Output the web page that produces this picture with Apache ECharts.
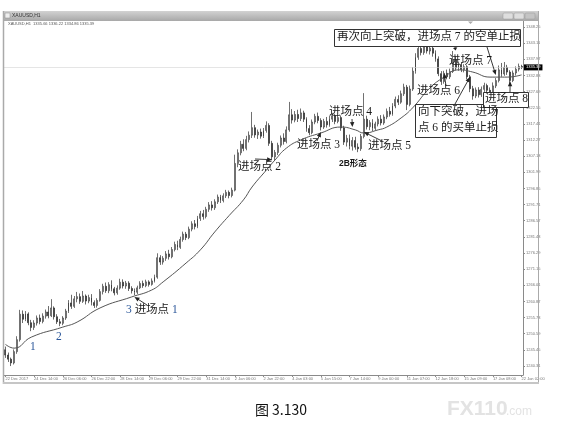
<!DOCTYPE html>
<html><head><meta charset="utf-8">
<script src="https://cdn.jsdelivr.net/npm/echarts@6/dist/echarts.min.js"></script>
<style>html,body{margin:0;padding:0;background:#fff}#c{width:562px;height:432px}</style>
</head><body><div id="c"></div>
<script>
// ---------------- data ----------------
const xTickLabels = ["22 Dec 2017","24 Dec 14:00","26 Dec 06:00","26 Dec 22:00","28 Dec 14:00","29 Dec 06:00","29 Dec 22:00","31 Dec 14:00","2 Jan 06:00","2 Jan 22:00","4 Jan 03:00","5 Jan 15:00","7 Jan 14:00","9 Jan 00:00","11 Jan 07:00","12 Jan 18:00","15 Jan 09:00","17 Jan 08:00","22 Jan 02:00"];
const yTickValues = [1240.31,1245.45,1250.59,1255.73,1260.87,1266.01,1271.15,1276.29,1281.43,1286.57,1291.71,1296.85,1301.99,1307.13,1312.27,1317.41,1322.55,1327.69,1332.83,1337.97,1343.11,1348.25];
const barOpen = [1245.5,1243.8,1242.5,1241.3,1244.9,1248.7,1256.8,1255.2,1256.9,1254.1,
1252.6,1254.0,1255.6,1254.5,1256.2,1257.5,1256.3,1258.8,1256.0,1254.4,
1253.9,1255.6,1257.8,1260.4,1259.3,1261.7,1262.4,1260.9,1262.6,1261.0,
1262.1,1260.5,1259.6,1261.2,1264.0,1265.7,1264.3,1266.2,1264.9,1263.6,
1265.1,1267.0,1265.8,1266.7,1265.0,1264.3,1263.8,1265.2,1266.6,1265.9,
1267.1,1266.3,1267.4,1268.6,1274.8,1273.4,1274.6,1276.0,1275.1,1277.4,
1279.0,1278.1,1280.6,1282.3,1281.2,1283.9,1285.6,1284.7,1287.3,1288.8,
1287.9,1290.2,1291.6,1290.7,1292.6,1294.1,1293.0,1294.5,1295.6,1294.6,
1296.3,1304.8,1308.2,1310.9,1309.6,1312.4,1313.8,1316.2,1313.9,1314.8,
1313.5,1315.3,1316.9,1311.2,1306.9,1308.3,1310.6,1312.9,1311.8,1315.5,
1320.3,1318.6,1320.4,1319.1,1320.9,1318.9,1315.9,1314.6,1318.0,1319.8,
1318.5,1316.4,1318.2,1317.1,1318.9,1320.0,1318.2,1319.4,1316.1,1311.6,
1312.8,1310.3,1312.1,1310.0,1309.5,1313.4,1318.9,1316.5,1317.8,1316.0,
1317.4,1318.9,1317.7,1319.6,1321.4,1320.5,1323.1,1325.2,1324.3,1327.0,
1329.1,1323.6,1328.5,1334.2,1338.6,1341.4,1340.1,1342.0,1340.6,1341.5,
1339.9,1338.1,1333.4,1330.9,1333.5,1332.4,1334.1,1337.8,1335.2,1336.3,
1334.7,1335.6,1332.4,1328.6,1326.3,1328.2,1326.7,1328.4,1329.6,1328.1,
1327.3,1329.5,1331.2,1334.6,1333.3,1335.4,1333.9,1331.2,1333.6,1334.8,
1335.66];
const barClose = [1243.8,1242.5,1241.3,1244.9,1248.7,1256.8,1255.2,1256.9,1254.1,1252.6,
1254.0,1255.6,1254.5,1256.2,1257.5,1256.3,1258.8,1256.0,1254.4,1253.9,
1255.6,1257.8,1260.4,1259.3,1261.7,1262.4,1260.9,1262.6,1261.0,1262.1,
1260.5,1259.6,1261.2,1264.0,1265.7,1264.3,1266.2,1264.9,1263.6,1265.1,
1267.0,1265.8,1266.7,1265.0,1264.3,1263.8,1265.2,1266.6,1265.9,1267.1,
1266.3,1267.4,1268.6,1274.8,1273.4,1274.6,1276.0,1275.1,1277.4,1279.0,
1278.1,1280.6,1282.3,1281.2,1283.9,1285.6,1284.7,1287.3,1288.8,1287.9,
1290.2,1291.6,1290.7,1292.6,1294.1,1293.0,1294.5,1295.6,1294.6,1296.3,
1304.8,1308.2,1310.9,1309.6,1312.4,1313.8,1316.2,1313.9,1314.8,1313.5,
1315.3,1316.9,1311.2,1306.9,1308.3,1310.6,1312.9,1311.8,1315.5,1320.3,
1318.6,1320.4,1319.1,1320.9,1318.9,1315.9,1314.6,1318.0,1319.8,1318.5,
1316.4,1318.2,1317.1,1318.9,1320.0,1318.2,1319.4,1316.1,1311.6,1312.8,
1310.3,1312.1,1310.0,1309.5,1313.4,1318.9,1316.5,1317.8,1316.0,1317.4,
1318.9,1317.7,1319.6,1321.4,1320.5,1323.1,1325.2,1324.3,1327.0,1329.1,
1323.6,1328.5,1334.2,1338.6,1341.4,1340.1,1342.0,1340.6,1341.5,1339.9,
1338.1,1333.4,1330.9,1333.5,1332.4,1334.1,1337.8,1335.2,1336.3,1334.7,
1335.6,1332.4,1328.6,1326.3,1328.2,1326.7,1328.4,1329.6,1328.1,1327.3,
1329.5,1331.2,1334.6,1333.3,1335.4,1333.9,1331.2,1333.6,1334.8,1335.7,
1335.39];
const barLow = [1242.9,1241.6,1240.3,1240.8,1244.2,1248.1,1254.0,1254.6,1253.3,1251.4,
1251.8,1253.2,1253.6,1253.9,1255.4,1255.5,1255.9,1255.1,1253.7,1253.0,
1253.3,1255.0,1257.2,1258.5,1258.8,1260.6,1260.1,1260.4,1259.9,1260.3,
1259.6,1258.8,1258.9,1260.8,1263.1,1263.6,1263.5,1264.1,1262.8,1263.0,
1264.6,1265.0,1264.9,1264.2,1263.4,1262.9,1263.2,1264.8,1265.2,1265.4,
1265.6,1265.9,1266.9,1268.1,1272.5,1272.6,1273.8,1274.2,1274.6,1276.8,
1277.2,1277.6,1279.9,1280.4,1280.7,1283.2,1283.8,1284.2,1286.5,1286.9,
1287.3,1289.4,1289.8,1290.0,1291.9,1292.2,1292.4,1293.8,1293.7,1294.0,
1295.9,1303.6,1307.4,1308.7,1309.0,1311.5,1312.9,1313.0,1312.6,1312.7,
1312.9,1314.6,1310.4,1305.8,1305.6,1307.5,1309.9,1310.8,1311.2,1314.9,
1317.5,1317.9,1318.0,1318.3,1318.0,1314.9,1313.8,1314.1,1317.3,1317.6,
1315.3,1315.8,1316.2,1316.5,1318.0,1317.3,1317.6,1315.2,1310.7,1310.2,
1309.3,1308.9,1309.2,1308.4,1308.8,1312.8,1315.6,1315.4,1315.1,1315.3,
1316.6,1316.9,1317.1,1318.9,1319.7,1320.0,1322.4,1323.4,1323.8,1326.3,
1321.8,1323.0,1327.9,1333.4,1337.8,1339.2,1339.4,1339.8,1339.5,1338.8,
1337.2,1332.6,1329.8,1330.2,1331.6,1331.7,1333.6,1334.4,1334.3,1333.9,
1333.8,1331.6,1327.5,1325.1,1325.6,1325.8,1326.0,1327.6,1327.3,1326.2,
1326.8,1328.8,1330.6,1332.4,1332.7,1333.0,1329.6,1330.7,1332.8,1334.1,
1334.86];
const barHigh = [1246.5,1244.6,1243.0,1245.6,1249.8,1258.2,1258.0,1257.8,1257.4,1255.0,
1254.9,1256.4,1256.7,1257.1,1258.3,1259.4,1261.6,1259.3,1256.8,1255.3,
1256.2,1258.5,1261.3,1263.0,1262.6,1263.9,1263.4,1264.2,1263.1,1263.0,
1263.2,1261.2,1261.9,1264.8,1266.5,1266.9,1267.0,1267.6,1265.5,1266.0,
1268.1,1267.9,1267.4,1267.3,1265.7,1265.0,1265.9,1267.3,1267.5,1267.8,
1267.6,1268.2,1269.4,1276.2,1275.6,1275.3,1276.9,1277.3,1278.2,1279.9,
1280.2,1281.5,1283.1,1283.0,1284.7,1286.4,1286.8,1288.1,1289.7,1290.0,
1291.0,1292.5,1292.8,1293.4,1294.9,1294.8,1295.3,1296.4,1296.2,1297.1,
1307.6,1309.3,1312.0,1312.5,1313.6,1315.0,1321.2,1317.1,1315.6,1315.9,
1316.1,1318.2,1317.6,1312.0,1309.1,1311.4,1313.7,1314.4,1316.6,1324.4,
1322.1,1321.5,1321.9,1322.3,1321.6,1319.5,1317.0,1318.8,1320.6,1321.0,
1319.2,1319.0,1319.6,1319.9,1320.9,1320.5,1320.6,1320.1,1316.8,1313.9,
1314.0,1313.2,1313.3,1311.2,1314.2,1327.2,1320.0,1318.6,1318.9,1318.1,
1319.8,1320.2,1320.4,1322.3,1322.8,1324.0,1326.1,1326.5,1328.0,1330.2,
1329.8,1329.6,1335.5,1339.9,1342.9,1343.6,1343.1,1342.8,1342.4,1342.2,
1340.8,1338.9,1334.2,1334.3,1334.7,1335.0,1340.6,1338.9,1337.2,1337.0,
1336.4,1336.1,1333.0,1329.5,1329.0,1329.1,1329.3,1330.5,1330.2,1329.0,
1330.6,1332.0,1336.0,1336.8,1337.1,1336.2,1334.5,1334.4,1335.7,1336.6,
1336.22];
// moving-average line, read at these bar positions
const maIndex = [0,3,9,20,25,33,44,51,55,63,68,73,78,83,86,91,94,98,103,110,117,122,125,130,133,138,142,148,153,158,163,169,175,180];
const maValue = [1247.2,1246.0,1249.5,1252.7,1254.3,1258.8,1262.3,1264.5,1267.1,1273.1,1277.3,1283.0,1288.2,1293.2,1297.3,1302.7,1305.9,1309.7,1312.3,1314.5,1316.4,1315.5,1314.5,1315.5,1316.4,1319.3,1322.5,1328.8,1332.3,1334.6,1333.9,1332.3,1332.3,1333.0];
const lastPrice = 1335.39;
const headerText = 'XAUUSD,H1  1335.66 1336.22 1334.86 1335.39';
const windowTitle = 'XAUUSD,H1';
const caption = '图 3.130';

// ---------------- build ----------------
const N = barClose.length;
const categories = barClose.map((_, i) => String(i));
const candleData = barClose.map((c, i) => [barOpen[i], c, barLow[i], barHigh[i]]);
const maData = new Array(N).fill(null);
maIndex.forEach((idx, k) => { maData[idx] = maValue[k]; });

const chart = echarts.init(document.getElementById('c'), null, {renderer: 'canvas'});
const option = {
  animation: false,
  backgroundColor: '#fff',
  grid: {left: 4, right: 39, top: 21, bottom: 57},
  xAxis: {
    type: 'category', data: categories, boundaryGap: true,
    axisLine: {lineStyle: {color: '#8a8a8a', width: 1}},
    axisTick: {show: true, alignWithLabel: true, interval: (i) => i % 10 === 0, length: 2, lineStyle: {color: '#8a8a8a'}},
    axisLabel: {interval: (i) => i % 10 === 0, formatter: (v, i) => xTickLabels[i / 10] || '', align: 'left',
      fontSize: 4, color: '#777', margin: 2, fontFamily: 'Liberation Sans'},
    splitLine: {show: false}
  },
  yAxis: {
    type: 'value', position: 'right', min: 1237.45, max: 1350.16,
    axisLine: {show: true, lineStyle: {color: '#8a8a8a'}},
    axisTick: {show: true, customValues: yTickValues, length: 2, lineStyle: {color: '#8a8a8a'}},
    axisLabel: {customValues: yTickValues, formatter: (v) => v.toFixed(2), fontSize: 4, color: '#777', margin: 3, fontFamily: 'Liberation Sans'},
    splitLine: {show: false}
  },
  series: [
    {
      type: 'candlestick', data: candleData, barWidth: 1.4,
      itemStyle: {color: '#ffffff', color0: '#2a2a2a', borderColor: '#333', borderColor0: '#2a2a2a', borderWidth: 0.7},
      markLine: {
        silent: true, symbol: 'none', data: [{yAxis: lastPrice}],
        lineStyle: {color: '#d4d4d4', width: 0.6, type: 'solid'},
        label: {show: true, position: 'end', formatter: lastPrice.toFixed(2), backgroundColor: '#000', color: '#fff',
          fontSize: 4, padding: [1, 2], distance: 1, fontFamily: 'Liberation Sans'}
      }
    },
    {
      type: 'line', data: maData, connectNulls: true, smooth: 0.5, showSymbol: false, symbol: 'none',
      lineStyle: {color: '#555', width: 1}, z: 3
    }
  ]
};
chart.setOption(option);

// ---------------- annotations ----------------
const CJK = '"Liberation Serif","Noto Sans CJK SC",serif';
const FS = 11.5;
const px = (i, p) => chart.convertToPixel({gridIndex: 0}, [i, p]);
const els = [];

// window chrome
els.push({type: 'rect', shape: {x: 3, y: 11, width: 536, height: 10}, style: {fill: new echarts.graphic.LinearGradient(0, 0, 0, 1, [{offset: 0, color: '#d2d2d2'}, {offset: 1, color: '#a8a8a8'}])}, z: 50});
els.push({type: 'rect', shape: {x: 5, y: 13, width: 5, height: 5}, style: {fill: '#eee', stroke: '#888', lineWidth: 0.5}, z: 51});
els.push({type: 'text', x: 12, y: 16, style: {text: windowTitle, fontSize: 5, fontFamily: 'Liberation Sans', fill: '#333', verticalAlign: 'middle'}, z: 51});
[[503, '#dedede'], [514, '#dedede'], [525, '#c4c4c4']].forEach(([bx, c]) => {
  els.push({type: 'rect', shape: {x: bx, y: 13, width: 10, height: 6, r: 1}, style: {fill: c, stroke: '#999', lineWidth: 0.5}, z: 51});
});
els.push({type: 'line', shape: {x1: 3.5, y1: 11, x2: 3.5, y2: 384}, style: {stroke: '#aaa', lineWidth: 1.5}, z: 50});
els.push({type: 'line', shape: {x1: 538.5, y1: 11, x2: 538.5, y2: 384}, style: {stroke: '#aaa', lineWidth: 1}, z: 50});
els.push({type: 'rect', shape: {x: 3, y: 382, width: 536, height: 2}, style: {fill: '#c6c6c6'}, z: 50});
els.push({type: 'text', x: 8, y: 24, style: {text: headerText, fontSize: 4, fontFamily: 'Liberation Sans', fill: '#555', verticalAlign: 'middle'}, z: 51});
els.push({type: 'polygon', shape: {points: [[468, 21.5], [473, 21.5], [470.5, 24]]}, style: {fill: '#aaa'}, z: 51});

// caption and watermark
els.push({type: 'text', x: 281, y: 410, style: {text: caption, fontSize: 14, fontFamily: '"Noto Sans CJK SC",sans-serif', fill: '#111', align: 'center', verticalAlign: 'middle'}, z: 51});
els.push({type: 'text', x: 447, y: 409, style: {text: 'FX110', fontSize: 21, fontWeight: 'bold', fontFamily: 'Liberation Sans', fill: '#e3e3e3', verticalAlign: 'middle'}, z: 40});
els.push({type: 'text', x: 506, y: 412, style: {text: '.com', fontSize: 12, fontFamily: 'Liberation Sans', fill: '#e3e3e3', verticalAlign: 'middle'}, z: 40});

function text(t, x, y, opts) {
  els.push(Object.assign({type: 'text', x: x, y: y, z: 120,
    style: Object.assign({text: t, fontSize: FS, fontFamily: CJK, fill: '#1a1a1a', verticalAlign: 'top'}, opts || {})}));
}
function box(x, y, w, h) {
  els.push({type: 'rect', shape: {x: x + 0.5, y: y + 0.5, width: w, height: h}, style: {fill: '#fff', stroke: '#333', lineWidth: 1}, z: 110});
}
function arrow(tail, tipData) {
  const tip = px(tipData[0], tipData[1]);
  const dx = tip[0] - tail[0], dy = tip[1] - tail[1];
  const len = Math.hypot(dx, dy) || 1;
  const ux = dx / len, uy = dy / len, nx = -uy, ny = ux;
  const L = Math.min(5, len * 0.8), W = 2.2;
  els.push({type: 'line', shape: {x1: tail[0], y1: tail[1], x2: tip[0] - ux * L * 0.6, y2: tip[1] - uy * L * 0.6}, style: {stroke: '#222', lineWidth: 0.9}, z: 115});
  els.push({type: 'polygon', shape: {points: [tip, [tip[0] - ux * L + nx * W, tip[1] - uy * L + ny * W], [tip[0] - ux * L - nx * W, tip[1] - uy * L - ny * W]]}, style: {fill: '#222'}, z: 115});
}

const BLUE = '#2a5699';
text('1', 30, 341, {fill: BLUE});
text('2', 56, 331, {fill: BLUE});
text('{b|3} 进场点 {b|1}', 126, 304, {rich: {b: {fill: BLUE, fontSize: FS, fontFamily: CJK}}});
text('进场点 2', 238, 161);
text('进场点 3', 297, 139);
text('进场点 4', 329, 106);
text('进场点 5', 368, 140);
text('进场点 6', 417, 85);
text('进场点 7', 449, 55);
text('2B形态', 339, 159, {fontSize: 8.5, fontWeight: 'bold', fontFamily: '"Liberation Sans","Noto Sans CJK SC",sans-serif'});

box(415, 104, 81, 33);
text('向下突破，进场', 418, 106);
text('点 6 的买单止损', 418, 122);
box(334, 29, 186, 17);
text('再次向上突破，进场点 7 的空单止损', 337, 31);
box(483, 92, 45, 15);
text('进场点 8', 485, 93);

arrow([147, 305], [45, 1262.3]);
arrow([255, 159], [93, 1306.0]);
arrow([317, 141], [110.3, 1314.8]);
arrow([352, 119], [120.8, 1316.4]);
arrow([382, 141], [125.3, 1314.8]);
arrow([446, 86], [152.6, 1333.5]);
arrow([455, 104], [161.7, 1332.3]);
arrow([455, 47], [156.8, 1340.8]);
arrow([487, 47], [171.1, 1333.0]);
arrow([510, 92], [176, 1331.0]);

chart.setOption({graphic: {elements: els}});
</script></body></html>
